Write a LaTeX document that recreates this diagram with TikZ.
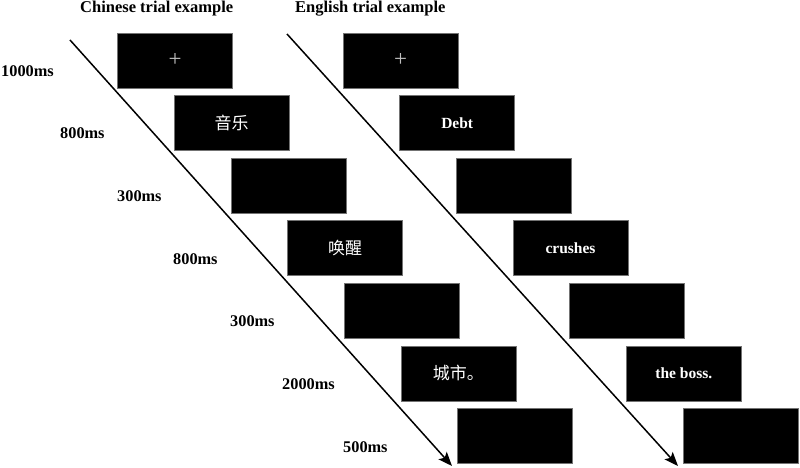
\documentclass[tikz,border=0pt]{standalone}
\usepackage{fontspec}
\setmainfont{Liberation Serif}
\newfontfamily\cjk{Noto Sans CJK SC}
\usetikzlibrary{arrows.meta}
\begin{document}
\begin{tikzpicture}[x=1pt,y=-1pt,
  scr/.style={fill=black,draw=black!55,line width=0.6pt,minimum width=115pt,minimum height=55pt,inner sep=0pt,text=white,font=\fontsize{15.5}{15.5}\selectfont\bfseries},
  cn/.style={font=\fontsize{17}{17}\selectfont\cjk},
  fix/.style={font=\fontsize{23}{23}\selectfont\mdseries,text=white!75!black},
  lab/.style={anchor=base west,font=\fontsize{16.3}{16.3}\selectfont\bfseries,inner sep=0pt},
  ttl/.style={anchor=base west,font=\fontsize{16.5}{16.5}\selectfont\bfseries,inner sep=0pt},
  tl/.style={line width=1.5pt,-{Stealth[length=14pt,width=11pt,inset=3pt]}}]
\useasboundingbox (0,0) rectangle (800,468);
% titles
\node[ttl] (t1) at (80,13) {Chinese trial example};
\node[ttl] (t2) at (295,13) {English trial example};
% arrows
\coordinate (ls) at (70,40);
\coordinate (le) at (452,466);
\coordinate (rs) at (287,34);
\coordinate (re) at (678,466);
\draw[tl] (ls) -- (le);
\draw[tl] (rs) -- (re);
% Chinese screens
\node[scr,fix] (c1) at (175,60.5) {+};
\node[scr,cn]  (c2) at (231.7,123.1) {音乐};
\node[scr]     (c3) at (288.3,185.7) {};
\node[scr,cn]  (c4) at (345,248.2) {唤醒};
\node[scr]     (c5) at (401.7,310.8) {};
\node[scr,cn]  (c6) at (458.3,373.4) {城市。};
\node[scr]     (c7) at (515,436) {};
% English screens
\node[scr,fix] (e1) at (400.5,60.5) {+};
\node[scr]     (e2) at (457.2,123.1) {Debt};
\node[scr]     (e3) at (513.8,185.7) {};
\node[scr]     (e4) at (570.5,248.2) {crushes};
\node[scr]     (e5) at (627.2,310.8) {};
\node[scr]     (e6) at (683.8,373.4) {the boss.};
\node[scr]     (e7) at (740.5,436) {};
% durations
\node[lab] (d1) at (1,76.5) {1000ms};
\node[lab] (d2) at (60,138.5) {800ms};
\node[lab] (d3) at (117,201.5) {300ms};
\node[lab] (d4) at (173,264.5) {800ms};
\node[lab] (d5) at (230,326.5) {300ms};
\node[lab] (d6) at (282,389.5) {2000ms};
\node[lab] (d7) at (343,452.5) {500ms};
\end{tikzpicture}
\end{document}
